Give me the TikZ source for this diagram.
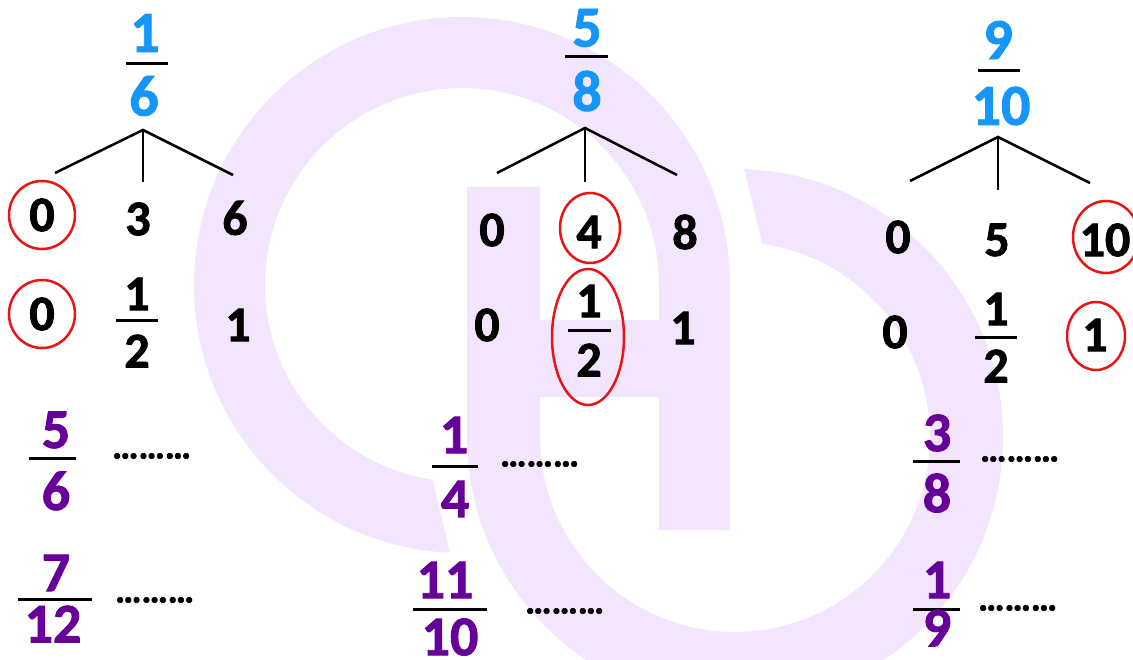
\documentclass[tikz,border=0pt]{standalone}
\usepackage{fontspec}
\setmainfont{Carlito}[BoldFeatures={FakeBold=1.6}]
\definecolor{wm}{RGB}{243,229,253}
\definecolor{blu}{RGB}{20,150,250}
\definecolor{pur}{RGB}{102,0,153}
\definecolor{rd}{RGB}{235,20,20}
\begin{document}
\begin{tikzpicture}[x=1pt,y=-1pt,
  blk/.style={inner sep=0pt,font=\fontsize{50}{50}\selectfont\bfseries,text=black},
  topn/.style={inner sep=0pt,font=\fontsize{58}{58}\selectfont\bfseries,text=blu},
  pq/.style={inner sep=0pt,font=\fontsize{56}{56}\selectfont\bfseries,text=pur},
  dotsn/.style={inner sep=0pt,anchor=west,font=\fontsize{37}{37}\selectfont\bfseries,text=black},
  fbar/.style={line width=3pt},
  leg/.style={line width=2.5pt},
  hl/.style={draw=rd,line width=2.5pt}
]
\useasboundingbox (0,0) rectangle (1133,660);
\fill[white] (0,0) rectangle (1133,660);
% watermark
\fill[wm] (462,285) ++(92.6:268) arc[start angle=92.6,end angle=360,radius=268]
  -- (730,530) -- (659,530) -- (659,285)
  arc[start angle=360,end angle=98.6,radius=197] -- cycle;
\fill[wm] (735,437) ++(272:268) arc[start angle=272,end angle=540,radius=268]
  -- (467,187) -- (540,187) -- (540,437)
  arc[start angle=540,end angle=278,radius=195] -- cycle;
\fill[wm] (535,320) rectangle (662,397);

% ===== column 1 =====
\node[topn] (t1n) at (145,33) {1};
\draw[fbar] (126,64) -- (168,64);
\node[topn] (t1d) at (144,96) {6};
\coordinate (t1a) at (143,130);
\coordinate (t1l) at (55,173);
\coordinate (t1m) at (143,182);
\coordinate (t1r) at (233,175);
\draw[leg] (t1l) -- (t1a) -- (t1r);
\draw[leg] (t1a) -- (t1m);
\node[blk] (a10) at (42,215) {0};
\node[blk] (a13) at (138,219) {3};
\node[blk] (a16) at (235,218) {6};
\draw[hl] (a10) ellipse [x radius=33,y radius=34];
\node[blk] (b10) at (42,314) {0};
\draw[hl] (b10) ellipse [x radius=33,y radius=34];
\node[blk] (b1n) at (137,294) {1};
\draw[fbar] (116,321) -- (158,321);
\node[blk] (b1d) at (137,351) {2};
\node[blk] (b11) at (238,325) {1};
\node[pq] (c1n) at (56,430) {5};
\draw[fbar] (29,458) -- (76,458);
\node[pq] (c1d) at (56,491) {6};
\node[dotsn] (c1x) at (112,456) {………};
\node[pq] (d1n) at (56,573) {7};
\draw[fbar] (18,599) -- (92,599);
\node[pq] (d1d) at (53,624) {12};
\node[dotsn] (d1x) at (115,600) {………};

% ===== column 2 =====
\node[topn] (t2n) at (587,28) {5};
\draw[fbar] (565,57) -- (608,57);
\node[topn] (t2d) at (587,91) {8};
\coordinate (t2a) at (585,128);
\coordinate (t2l) at (497,173);
\coordinate (t2m) at (585,182);
\coordinate (t2r) at (677,175);
\draw[leg] (t2l) -- (t2a) -- (t2r);
\draw[leg] (t2a) -- (t2m);
\node[blk] (a20) at (492,230) {0};
\node[blk] (a24) at (589,232) {4};
\node[blk] (a28) at (685,232) {8};
\draw[hl] (590,228) ellipse [x radius=30,y radius=35];
\node[blk] (b20) at (487,325) {0};
\node[blk] (b2n) at (589,301) {1};
\draw[fbar] (568,331) -- (611,331);
\node[blk] (b2d) at (589,360) {2};
\draw[hl] (588,337) ellipse [x radius=36,y radius=68];
\node[blk] (b21) at (683,328) {1};
\node[pq] (c2n) at (454,435) {1};
\draw[fbar] (432,466) -- (478,466);
\node[pq] (c2d) at (455,499) {4};
\node[dotsn] (c2x) at (500,464) {………};
\node[pq] (d2n) at (445,580) {11};
\draw[fbar] (413,609) -- (487,609);
\node[pq] (d2d) at (450,637) {10};
\node[dotsn] (d2x) at (525,611) {………};

% ===== column 3 =====
\node[topn] (t3n) at (998,40) {9};
\draw[fbar] (978,71) -- (1020,71);
\node[topn] (t3d) at (1001,106) {10};
\coordinate (t3a) at (998,137);
\coordinate (t3l) at (910,181);
\coordinate (t3m) at (998,190);
\coordinate (t3r) at (1090,183);
\draw[leg] (t3l) -- (t3a) -- (t3r);
\draw[leg] (t3a) -- (t3m);
\node[blk] (a30) at (898,237) {0};
\node[blk] (a35) at (997,240) {5};
\node[blk] (a310) at (1105,240) {10};
\draw[hl] (1106,237) ellipse [x radius=33,y radius=36];
\node[blk] (b30) at (895,332) {0};
\node[blk] (b3n) at (996,309) {1};
\draw[fbar] (975,338) -- (1017,338);
\node[blk] (b3d) at (996,366) {2};
\node[blk] (b31) at (1095,335) {1};
\draw[hl] (1096,336) ellipse [x radius=29,y radius=34];
\node[pq] (c3n) at (937,433) {3};
\draw[fbar] (913,461) -- (960,461);
\node[pq] (c3d) at (937,493) {8};
\node[dotsn] (c3x) at (980,459) {………};
\node[pq] (d3n) at (937,580) {1};
\draw[fbar] (913,609) -- (960,609);
\node[pq] (d3d) at (937,628) {9};
\node[dotsn] (d3x) at (978,608) {………};
\end{tikzpicture}
\end{document}
